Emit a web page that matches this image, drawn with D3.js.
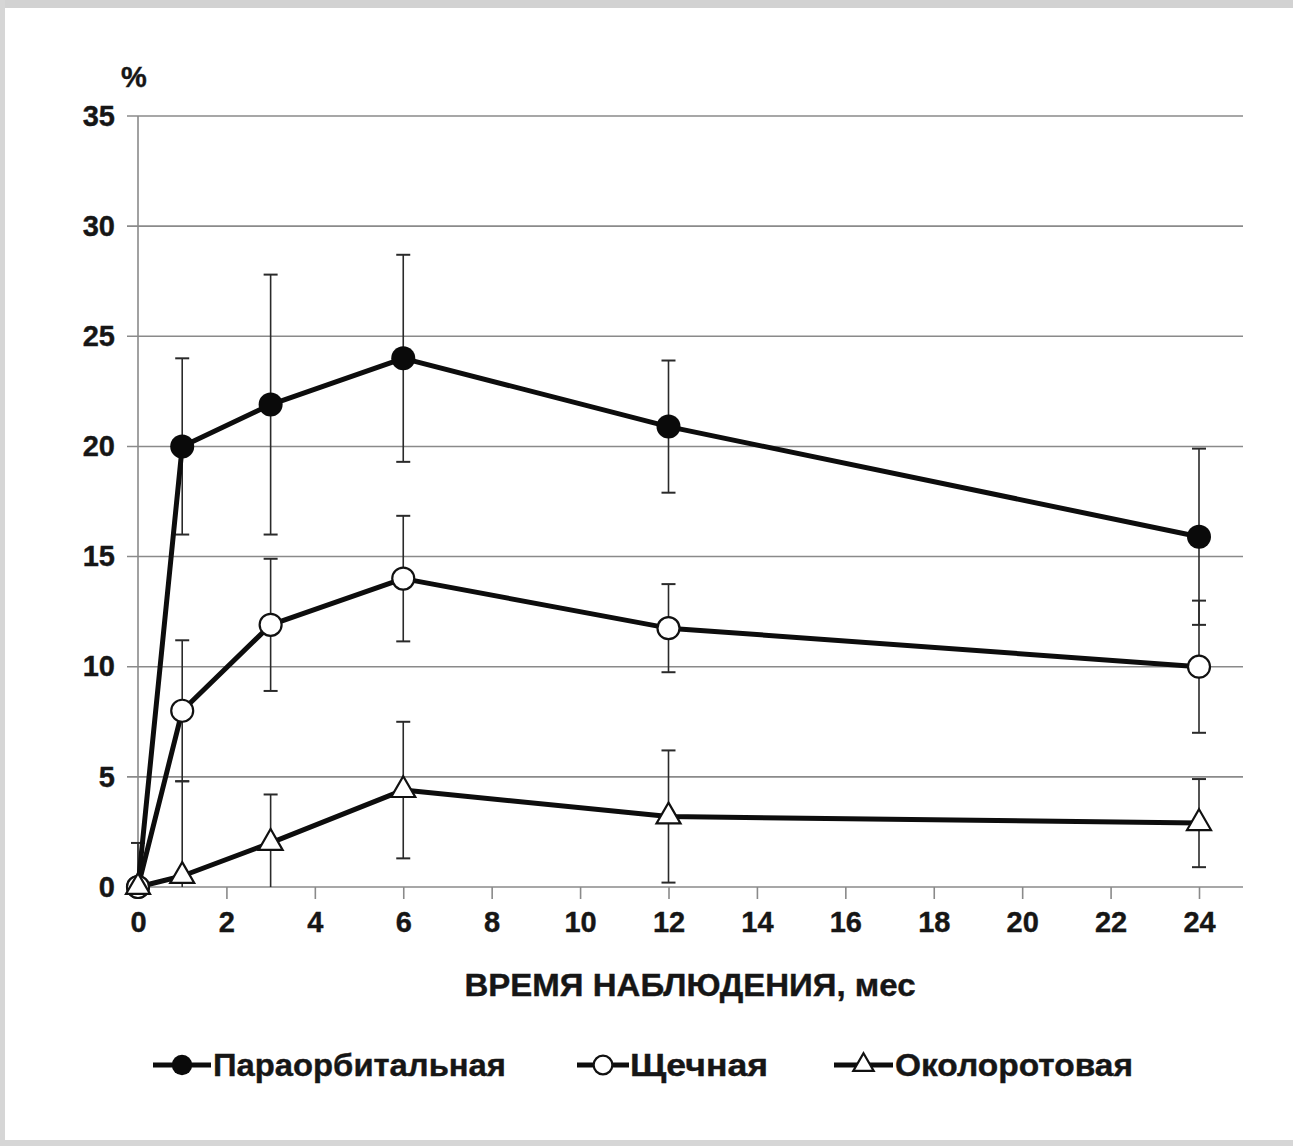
<!DOCTYPE html>
<html>
<head>
<meta charset="utf-8">
<script src="https://cdn.jsdelivr.net/npm/d3@7"></script>
<style>
  body { margin: 0; background: #fff; }
  svg text { font-family: "Liberation Sans", Arial, sans-serif; font-weight: bold; fill: #161616; stroke: #161616; stroke-width: 0.4; }
</style>
</head>
<body>
<div id="figure-div"></div>
<script>
// data
var months = [0, 1, 3, 6, 12, 24];
var paraorb = [0, 20, 21.9, 24, 20.9, 15.9];
var paraorbErr = [2, 4, 5.9, 4.7, 3, 4];
var shchech = [0, 8, 11.9, 14, 11.75, 10];
var shchechErr = [0, 3.2, 3, 2.85, 2, 3];
var okolo = [0, 0.5, 2, 4.4, 3.2, 2.9];
var okoloErr = [0, 4.3, 2.2, 3.1, 3, 2];
var seriesNames = ["Параорбитальная", "Щечная", "Околоротовая"];
var xTicks = [0, 2, 4, 6, 8, 10, 12, 14, 16, 18, 20, 22, 24];
var yTicks = [0, 5, 10, 15, 20, 25, 30, 35];

var w = 1293;
var h = 1146;

var svg = d3.select("#figure-div").append("svg")
	.attr("width", w)
	.attr("height", h);

// grey frame of the scan
svg.append("rect").attr("x", 0).attr("y", 0).attr("width", w).attr("height", 8).attr("fill", "#d2d2d2");
svg.append("rect").attr("x", 0).attr("y", 0).attr("width", 5).attr("height", h).attr("fill", "#d6d6d6");
svg.append("rect").attr("x", 0).attr("y", h - 6).attr("width", w).attr("height", 6).attr("fill", "#d6d6d6");

var xScale = d3.scaleLinear()
	.domain([0, 24])
	.range([138, 1199]);
var yScale = d3.scaleLinear()
	.domain([0, 35])
	.range([887, 116]);

var gridLeft = 127;
var gridRight = 1243;

// horizontal gridlines
svg.selectAll("line.grid")
	.data(yTicks)
	.enter()
	.append("line")
	.attr("class", "grid")
	.attr("x1", gridLeft)
	.attr("x2", gridRight)
	.attr("y1", function(d) { return yScale(d) })
	.attr("y2", function(d) { return yScale(d) })
	.attr("stroke", "#8a8a8a")
	.attr("stroke-width", 1.6);

// y axis line
svg.append("line")
	.attr("x1", xScale(0)).attr("x2", xScale(0))
	.attr("y1", yScale(35)).attr("y2", yScale(0))
	.attr("stroke", "#8a8a8a")
	.attr("stroke-width", 1.6);

// x axis ticks
var xAxis = d3.axisBottom(xScale)
	.tickValues(xTicks)
	.tickSize(12)
	.tickPadding(12)
	.tickFormat(d3.format("d"));
var gx = svg.append("g")
	.attr("transform", "translate(0," + yScale(0) + ")")
	.call(xAxis);
gx.select(".domain").remove();
gx.selectAll(".tick line").attr("stroke", "#8a8a8a").attr("stroke-width", 1.6);
gx.selectAll(".tick text")
	.attr("font-size", "29px")
	.attr("font-family", "'Liberation Sans', Arial, sans-serif")
	.attr("font-weight", "bold")
	.attr("fill", "#161616");

// y axis labels
var yAxis = d3.axisLeft(yScale)
	.tickValues(yTicks)
	.tickSize(0)
	.tickPadding(23)
	.tickFormat(d3.format("d"));
var gy = svg.append("g")
	.attr("transform", "translate(" + xScale(0) + ",0)")
	.call(yAxis);
gy.select(".domain").remove();
gy.selectAll(".tick text")
	.attr("font-size", "29px")
	.attr("font-family", "'Liberation Sans', Arial, sans-serif")
	.attr("font-weight", "bold")
	.attr("fill", "#161616");

svg.append("text")
	.attr("x", 121)
	.attr("y", 87)
	.attr("font-size", "29px")
	.text("%");

// series
var series = [
	{ name: seriesNames[0], values: paraorb, errs: paraorbErr, marker: "filled" },
	{ name: seriesNames[1], values: shchech, errs: shchechErr, marker: "open" },
	{ name: seriesNames[2], values: okolo, errs: okoloErr, marker: "triangle" }
];

// error bars
series.forEach(function(s) {
	var g = svg.append("g");
	months.forEach(function(m, i) {
		var e = s.errs[i];
		if (e <= 0) return;
		var hi = s.values[i] + e;
		var lo = Math.max(0, s.values[i] - e);
		var x = xScale(m);
		g.append("line")
			.attr("x1", x).attr("x2", x)
			.attr("y1", yScale(hi)).attr("y2", yScale(lo))
			.attr("stroke", "#2a2a2a").attr("stroke-width", 1.6);
		g.append("line")
			.attr("x1", x - 7).attr("x2", x + 7)
			.attr("y1", yScale(hi)).attr("y2", yScale(hi))
			.attr("stroke", "#2a2a2a").attr("stroke-width", 2);
		if (s.values[i] - e > 0) {
			g.append("line")
				.attr("x1", x - 7).attr("x2", x + 7)
				.attr("y1", yScale(lo)).attr("y2", yScale(lo))
				.attr("stroke", "#2a2a2a").attr("stroke-width", 2);
		}
	});
});

var line = d3.line()
	.x(function(d) { return xScale(d[0]) })
	.y(function(d) { return yScale(d[1]) });

series.forEach(function(s) {
	svg.append("path")
		.datum(months.map(function(m, i) { return [m, s.values[i]] }))
		.attr("d", line)
		.attr("fill", "none")
		.attr("stroke", "#0d0d0d")
		.attr("stroke-width", 5)
		.attr("stroke-linejoin", "round");
});

function drawMarker(g, type, x, y, scale) {
	if (type == "filled") {
		g.append("circle").attr("cx", x).attr("cy", y).attr("r", 12 * scale)
			.attr("fill", "#0a0a0a");
	} else if (type == "open") {
		g.append("circle").attr("cx", x).attr("cy", y).attr("r", 11 * scale)
			.attr("fill", "#fff").attr("stroke", "#111").attr("stroke-width", 2.2);
	} else {
		g.append("path")
			.attr("d", d3.symbol().type(d3.symbolTriangle).size(250 * scale * scale)())
			.attr("transform", "translate(" + x + "," + y + ")")
			.attr("fill", "#fff").attr("stroke", "#111").attr("stroke-width", 2.2);
	}
}

series.forEach(function(s) {
	var g = svg.append("g");
	months.forEach(function(m, i) {
		drawMarker(g, s.marker, xScale(m), yScale(s.values[i]), 1);
	});
});

// x axis title
svg.append("text")
	.attr("x", 690)
	.attr("y", 996)
	.attr("text-anchor", "middle")
	.attr("font-size", "31px")
	.attr("textLength", 451)
	.attr("lengthAdjust", "spacingAndGlyphs")
	.text("ВРЕМЯ НАБЛЮДЕНИЯ, мес");

// legend
var legendItems = [
	{ x1: 153, x2: 211, tx: 213, tl: 293 },
	{ x1: 577, x2: 629, tx: 630, tl: 138 },
	{ x1: 834, x2: 893, tx: 895, tl: 238 }
];
var legendY = 1065;
series.forEach(function(s, i) {
	var li = legendItems[i];
	var g = svg.append("g");
	g.append("line")
		.attr("x1", li.x1).attr("x2", li.x2)
		.attr("y1", legendY).attr("y2", legendY)
		.attr("stroke", "#0d0d0d").attr("stroke-width", 5);
	drawMarker(g, s.marker, (li.x1 + li.x2) / 2, legendY, 0.85);
	g.append("text")
		.attr("x", li.tx)
		.attr("y", legendY + 11)
		.attr("font-size", "31px")
		.attr("textLength", li.tl)
		.attr("lengthAdjust", "spacingAndGlyphs")
		.text(s.name);
});
</script>
</body>
</html>
